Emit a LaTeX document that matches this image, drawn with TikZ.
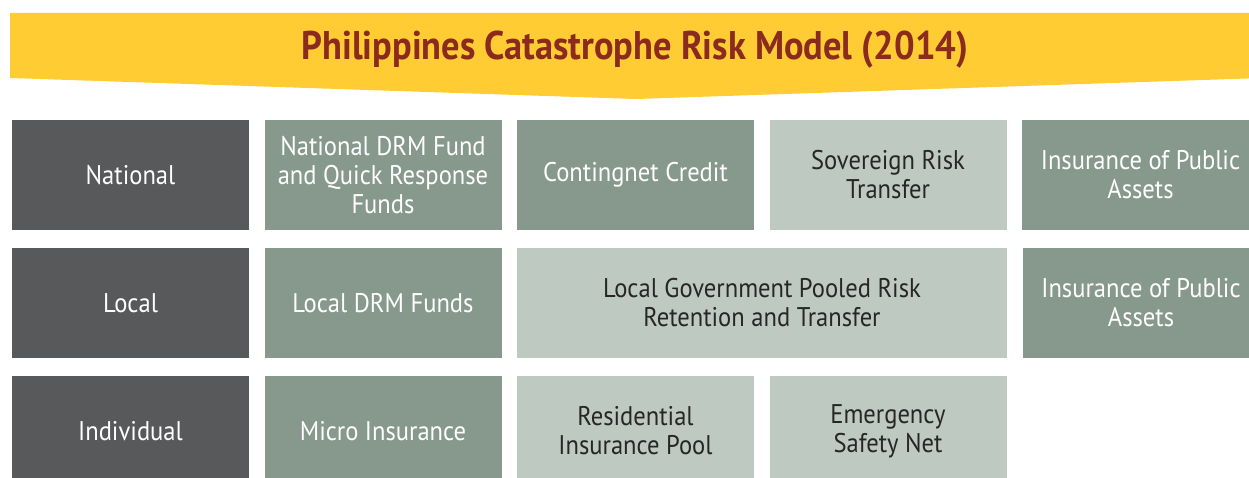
\documentclass[tikz,border=0pt]{standalone}
\usepackage{fontspec}
\setmainfont{PT Sans}[FakeStretch=0.91]
\usetikzlibrary{positioning}

\definecolor{bannerY}{HTML}{FFCD33}
\definecolor{titleR}{HTML}{8B2A1E}
\definecolor{levelG}{HTML}{58595B}
\definecolor{sageM}{HTML}{87998C}
\definecolor{sageL}{HTML}{BEC9C1}

\begin{document}
\begin{tikzpicture}[x=1pt,y=-1pt]
      \tikzstyle{every node}=[inner sep=0pt,outer sep=0pt,align=center,
                              font=\fontsize{27}{29}\selectfont]
      \tikzstyle{box}=[minimum width=237pt,minimum height=110pt]
      \tikzstyle{level}=[box,fill=levelG,text=white]
      \tikzstyle{dark}=[box,fill=sageM,text=white]
      \tikzstyle{light}=[box,fill=sageL,text=black!85]
      \useasboundingbox (0,0) rectangle (1249,478);
      % banner
      \fill[bannerY] (10,13) -- (1262,13) -- (1262,78) -- (636,99) -- (10,78) -- cycle;
      \node [text=titleR,font=\fontsize{40}{44}\bfseries] (title) at (635,50)
            {Philippines Catastrophe Risk Model (2014)};
      % national
      \node [level] (nat) at (130.5,175)      {National};
      \node [dark]  (qrf) [right=15.5pt of nat] {National DRM Fund\\and Quick Response\\Funds};
      \node [dark]  (cc)  [right=15.5pt of qrf] {Contingnet Credit};
      \node [light] (srt) [right=15.5pt of cc]  {Sovereign Risk\\Transfer};
      \node [dark]  (ipa) [right=15.5pt of srt] {Insurance of Public\\Assets};
      % local
      \node [level] (loc) [below=18pt of nat]   {Local};
      \node [dark]  (ldf) [right=15.5pt of loc] {Local DRM Funds};
      \node [light,minimum width=490pt] (lgp) [right=15.5pt of ldf]
            {Local Government Pooled Risk\\Retention and Transfer};
      \node [dark]  (ipb) [right=15.5pt of lgp] {Insurance of Public\\Assets};
      % individual
      \node [level] (ind) [below=18pt of loc]   {Individual};
      \node [dark]  (mic) [right=15.5pt of ind] {Micro Insurance};
      \node [light] (rip) [right=15.5pt of mic] {Residential\\Insurance Pool};
      \node [light] (esn) [right=15.5pt of rip] {\strut Emergency\\Safety Net};
\end{tikzpicture}
\end{document}
